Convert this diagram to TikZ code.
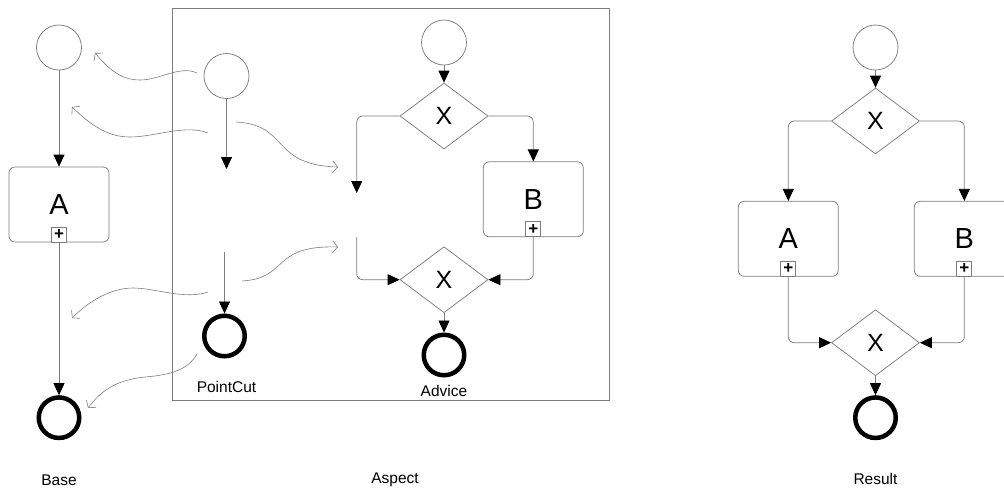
\documentclass[tikz,border=0pt]{standalone}
\usepackage{fontspec}
\setmainfont{Liberation Sans}
\usetikzlibrary{arrows.meta,shapes.geometric}
\definecolor{lingray}{RGB}{125,125,125}
\begin{document}
\begin{tikzpicture}[x=1pt,y=-1pt,line width=.75pt,
  startev/.style={circle,draw=lingray,minimum size=45pt,inner sep=0pt},
  endev/.style={circle,draw=black,line width=4.5pt,minimum size=40.5pt,inner sep=0pt},
  gate/.style={diamond,draw=lingray,minimum width=88pt,minimum height=66pt,inner sep=0pt,font=\fontsize{25}{25}\selectfont},
  task/.style={draw=lingray,rounded corners=6pt,minimum width=100pt,minimum height=75pt,inner sep=0pt,font=\fontsize{29}{29}\selectfont},
  subflag/.style={draw=lingray,fill=white,minimum size=15pt,inner sep=0pt,anchor=south,font=\fontsize{17}{17}\selectfont\bfseries},
  flow/.style={draw=lingray,rounded corners=6pt,-{Triangle[width=11pt,length=12pt,color=black]}},
  weave/.style={draw=lingray,line width=.6pt,-{Straight Barb[length=5pt,width=12pt]}},
  caption/.style={font=\fontsize{15.5}{16}\selectfont}]
 \useasboundingbox (0,0) rectangle (1004,491);
 \draw[lingray] (172.3,8) rectangle (609,400.7);

 \node[startev] (bs) at (59,47.5) {};
 \node[task] (ta) at (59,204.5) {A};
 \node[subflag] (fa) at (ta.south) {+};
 \node[endev] (be) at (59,417.7) {};
 \node[caption] (lbase) at (59,480) {Base};
 \draw[flow] (bs) -- (ta);
 \draw[flow] (fa) -- (be);

 \node[startev] (ps) at (226.5,76) {};
 \coordinate (pfree) at (226.5,169);
 \coordinate (pback) at (224.5,251.7);
 \node[endev] (pe) at (224.5,336) {};
 \node[caption] (lpc) at (226.5,387) {PointCut};
 \draw[flow] (ps) -- (pfree);
 \draw[flow] (pback) -- (pe);

 \node[startev] (as) at (444,42.5) {};
 \node[gate] (ad1) at (444,116) {X};
 \node[task] (tb) at (533.3,199.3) {B};
 \node[subflag] (fb) at (tb.south) {+};
 \node[gate] (ad2) at (444,279.7) {X};
 \node[endev] (ae) at (444,355) {};
 \node[caption] (ladv) at (444,391) {Advice};
 \coordinate (afork) at (356.7,193);
 \coordinate (ajoin) at (356.7,237);
 \draw[flow] (as) -- (ad1);
 \draw[flow] (ad1.west) -| (afork);
 \draw[flow] (ad1.east) -| (tb.north);
 \draw[flow] (ajoin) |- (ad2.west);
 \draw[flow] (fb.south) |- (ad2.east);
 \draw[flow] (ad2) -- (ae);
 \node[caption] (lasp) at (395,480) {Aspect};

 \node[startev] (rs) at (875.5,47.5) {};
 \node[gate] (rd1) at (875.5,121) {X};
 \node[task] (ra) at (788.3,238.8) {A};
 \node[subflag] (fra) at (ra.south) {+};
 \node[task] (rb) at (964.3,238.8) {B};
 \node[subflag] (frb) at (rb.south) {+};
 \node[gate] (rd2) at (875.5,342.7) {X};
 \node[endev] (re) at (875.5,417.7) {};
 \node[caption] (lres) at (875.5,479) {Result};
 \draw[flow] (rs) -- (rd1);
 \draw[flow] (rd1.west) -| (ra.north);
 \draw[flow] (rd1.east) -| (rb.north);
 \draw[flow] (fra.south) |- (rd2.west);
 \draw[flow] (frb.south) |- (rd2.east);
 \draw[flow] (rd2) -- (re);

 \coordinate (w1s) at (197,73);  \coordinate (w1e) at (95,53);
 \coordinate (w2s) at (208,133); \coordinate (w2e) at (72,107);
 \coordinate (w3s) at (236,122); \coordinate (w3e) at (338,167);
 \coordinate (w4s) at (242,281); \coordinate (w4e) at (338,247);
 \coordinate (w5s) at (208,292); \coordinate (w5e) at (72,318);
 \coordinate (w6s) at (197,354); \coordinate (w6e) at (88,408);
 \draw[weave] (w1s) .. controls (180,65) and (160,80) .. (140,80) .. controls (120,80) and (108,68) .. (w1e);
 \draw[weave] (w2s) .. controls (185,124) and (155,137) .. (130,137) .. controls (105,137) and (88,122) .. (w2e);
 \draw[weave] (w3s) .. controls (290,125) and (270,165) .. (w3e);
 \draw[weave] (w4s) .. controls (290,278) and (270,245) .. (w4e);
 \draw[weave] (w5s) .. controls (185,300) and (155,288) .. (133,288) .. controls (110,288) and (88,302) .. (w5e);
 \draw[weave] (w6s) .. controls (188,370) and (170,375) .. (145,377) .. controls (115,380) and (100,392) .. (w6e);
\end{tikzpicture}
\end{document}
